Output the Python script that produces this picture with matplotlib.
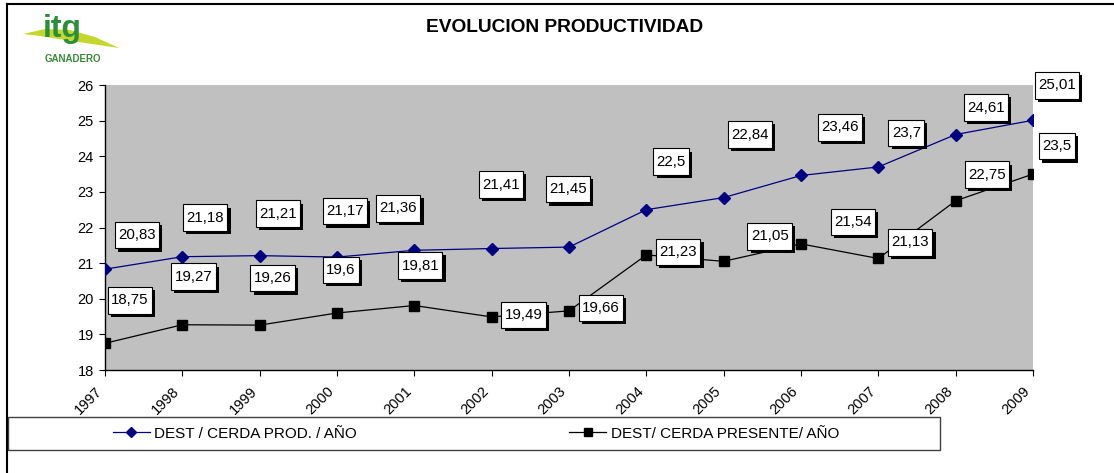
import matplotlib
matplotlib.use("Agg")
import matplotlib.pyplot as plt
import matplotlib.patheffects as pe
from matplotlib.patches import Rectangle, Polygon
from matplotlib.lines import Line2D
from matplotlib.path import Path

plt.rcParams['font.family'] = ['Liberation Sans', 'DejaVu Sans']

years = ['1997', '1998', '1999', '2000', '2001', '2002', '2003',
         '2004', '2005', '2006', '2007', '2008', '2009']
prod = [20.83, 21.18, 21.21, 21.17, 21.36, 21.41, 21.45,
        22.5, 22.84, 23.46, 23.7, 24.61, 25.01]
presente = [18.75, 19.27, 19.26, 19.6, 19.81, 19.49, 19.66,
            21.23, 21.05, 21.54, 21.13, 22.75, 23.5]
name_prod = "DEST / CERDA PROD. / AÑO"
name_pres = "DEST/ CERDA PRESENTE/ AÑO"

# label box offsets from the point, in pixels (x right, y up)
off_prod = [(32, 34), (23, 39), (18, 42), (8, 46), (-16, 42), (9, 64), (-1, 58),
            (25, 48), (26, 63), (39, 48), (28, 34), (30, 27), (24, 35)]
off_pres = [(25, 43), (11, 48), (13, 47), (4, 43), (6, 40), (32, 2), (32, 3),
            (32, 3), (46, 25), (52, 22), (32, 16), (31, 26), (24, 28)]

W, H = 1114, 473
px = 72 / 100

fig = plt.figure(figsize=(W / 100, H / 100), dpi=100)
ax = fig.add_axes([105 / W, 1 - 370 / H, 928 / W, 285 / H])
ax.set_facecolor('#C0C0C0')

x = list(range(len(years)))
ax.plot(x, prod, color='#000080', lw=0.9, marker='D', ms=6.5,
        label=name_prod, zorder=3)
ax.plot(x, presente, color='black', lw=0.9, marker='s', ms=7.5,
        label=name_pres, zorder=3)

ax.set_xlim(0, 12)
ax.set_ylim(18, 26)
ax.set_yticks(range(18, 27))
ax.set_xticks(x)
ax.set_xticklabels(years, rotation=45, ha='right', va='top', fontsize=10.5)
ax.tick_params(axis='y', labelsize=10.5, length=4.5, width=0.8, pad=3.5)
ax.tick_params(axis='x', length=4.5, width=0.8, pad=5.5)
for s in ['top', 'right']:
    ax.spines[s].set_visible(False)
for s in ['left', 'bottom']:
    ax.spines[s].set_linewidth(1.0)


def excel_box(x0, y0, width, height, mutation_size):
    # square box, narrow on the sides and taller than the text
    padx = 0.22 * mutation_size
    pady = 0.42 * mutation_size
    a, b = x0 - padx, y0 - pady
    c, d = x0 + width + padx, y0 + height + pady
    return Path([(a, b), (c, b), (c, d), (a, d), (a, b)], closed=True)


def fmt(v):
    return f"{v:g}".replace('.', ',')


def add_labels(vals, offs):
    for i, (v, (dx, dy)) in enumerate(zip(vals, offs)):
        t = ax.annotate(fmt(v), (i, v), xytext=(dx * px, dy * px),
                        textcoords='offset points', ha='center', va='center',
                        fontsize=10.8, zorder=5, annotation_clip=False,
                        bbox=dict(boxstyle=excel_box, fc='white',
                                  ec='black', lw=0.8))
        t.get_bbox_patch().set_path_effects([
            pe.SimplePatchShadow(offset=(2.3, -2.3), shadow_rgbFace='black', alpha=1.0),
            pe.Normal()])


add_labels(prod, off_prod)
add_labels(presente, off_pres)

fig.text(565 / W, 1 - 28 / H, "EVOLUCION PRODUCTIVIDAD", ha='center', va='center',
         fontsize=13.8, fontweight='bold')

# legend frame and entries
fig.patches.append(Rectangle((8 / W, 1 - 450 / H), 932 / W, 33 / H,
                             transform=fig.transFigure, fc='white', ec='#404040',
                             lw=1.0, zorder=1))
fig.legend(loc='center left', bbox_to_anchor=(113 / W, 1 - 433.5 / H), ncol=2,
           frameon=False, fontsize=11, handlelength=2.4, handletextpad=0.3,
           columnspacing=13.9, borderpad=0, borderaxespad=0, markerscale=0.85)

# outer frame (top and left edges)
fig.lines.append(Line2D([7 / W, 1], [1 - 4 / H, 1 - 4 / H], transform=fig.transFigure,
                        color='black', lw=1.5))
fig.lines.append(Line2D([7 / W, 7 / W], [0, 1 - 4 / H], transform=fig.transFigure,
                        color='black', lw=1.5))

# logo
swoosh = [(23, 34), (45, 29), (70, 30), (95, 37), (119, 48), (92, 44), (65, 40), (40, 36)]
fig.patches.append(Polygon([(a / W, 1 - b / H) for a, b in swoosh], closed=True,
                           transform=fig.transFigure, fc='#C5D62E', ec='none'))
fig.text(62 / W, 1 - 29 / H, "itg", ha='center', va='center', fontsize=23,
         fontweight='bold', color='#2A8F3A')
fig.text(73 / W, 1 - 59 / H, "GANADERO", ha='center', va='center', fontsize=7,
         fontweight='bold', color='#3A8A3A')

fig.savefig('out.png', dpi=100)
